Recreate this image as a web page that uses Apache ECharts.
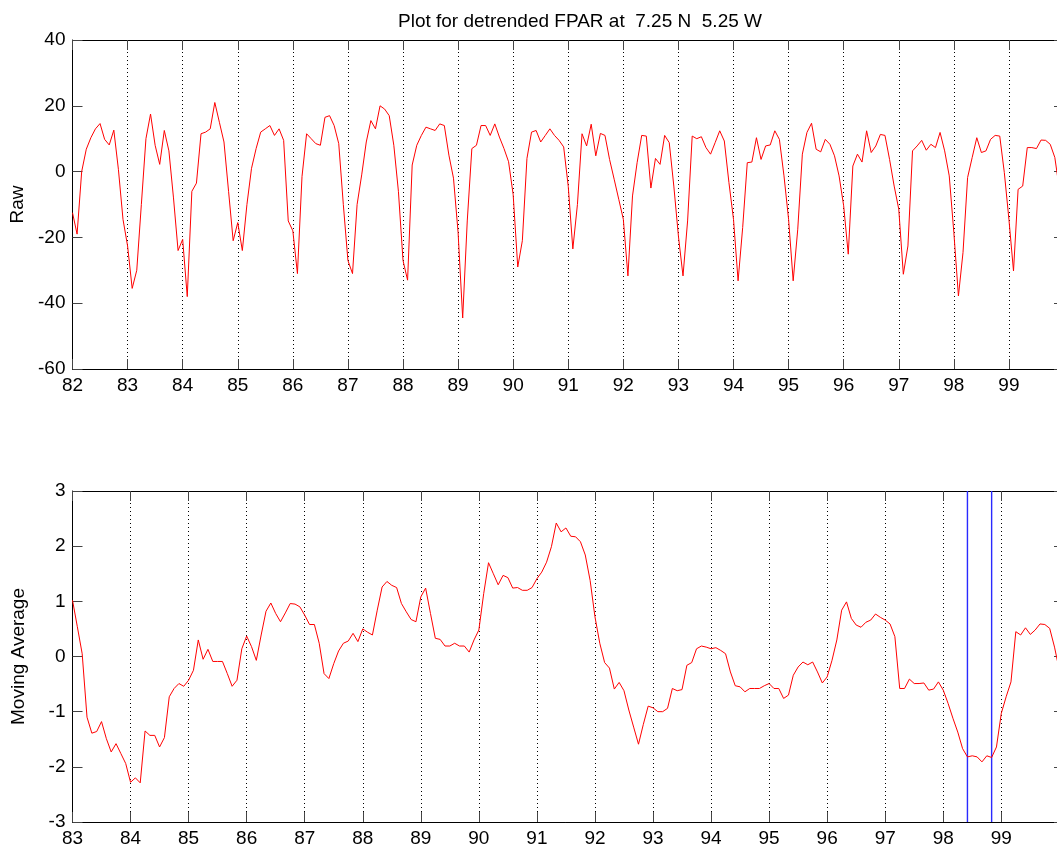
<!DOCTYPE html>
<html>
<head>
<meta charset="utf-8">
<title>Detrended FPAR</title>
<script src="https://cdn.jsdelivr.net/npm/echarts@6/dist/echarts.min.js"></script>
<style>
  html, body { margin: 0; padding: 0; background: #fff; }
  #chart { width: 1057px; height: 854px; }
</style>
</head>
<body>
<div id="chart"></div>
<script>
// Monthly detrended FPAR, Jan 1982 onward (two-digit years on the axis)
const rawStartYear = 82;
const rawValues = [
  -12.5, -19, 0, 6.8, 10.3, 13, 14.6, 9.8, 8.1, 12.6, 0.7, -14.5,
  -22.6, -35.5, -30, -10, 10, 17.5, 8, 2.2, 12.5, 6.3, -8, -24,
  -20.6, -38, -6, -3.5, 11.5, 12, 13, 21, 15, 9, -6, -21,
  -15.5, -24, -10, 1, 7, 12, 13, 14, 11, 13, 9.5, -15,
  -18, -31, -1.5, 11.5, 10, 8.5, 8, 16.5, 17, 14, 8.5, -10,
  -27, -31, -10, -1, 9, 15.5, 13, 20, 19, 17, 8, -6,
  -27, -33, 2, 8, 11, 13.5, 13, 12.5, 14.5, 14, 5, -2,
  -18.5, -44.5, -15, 7, 8, 14, 14, 11, 14.5, 10.5, 7, 3,
  -7, -29, -21, 4, 12, 12.5, 9, 11, 13, 11, 9.5, 7.5,
  -4.5, -23.5, -10, 11.5, 7.8, 14.4, 4.8, 11.6, 11, 3.7, -2.3, -8.4,
  -14.5, -31.7, -7.4, 2.7, 11, 10.8, -5, 4, 2.2, 11, 8.8, -4.4,
  -19.6, -31.7, -15, 10.8, 10, 10.6, 7.3, 5.3, 8.8, 12.4, 9.3, -3.3,
  -14.5, -33.2, -17, 2.7, 2.9, 10.3, 3.7, 7.8, 8.1, 12.4, 9.8, -1.3,
  -14.5, -33.2, -17.5, 5.3, 11.9, 14.7, 6.8, 6, 9.8, 8.3, 4.8, -1.3,
  -10.4, -25.1, 1.7, 5.3, 2.9, 12.4, 5.8, 7.8, 11.3, 11, 3.7, -4.4,
  -11.4, -31.2, -22.6, 6.3, 7.8, 9.5, 6.5, 8.3, 7.3, 11.9, 6.3, -1.3,
  -18.5, -37.8, -24.6, -1.8, 4.3, 10.3, 5.8, 6.3, 9.8, 11, 10.8, -0.3,
  -14.5, -30.2, -5.4, -4.4, 7.3, 7.3, 7, 9.6, 9.5, 8.3, 4.3, -5.4
];

// Moving average of the same series, Jan 1983 onward
const avgStartYear = 83;
const avgValues = [
  1.02, 0.54, 0.05, -1.1, -1.39, -1.36, -1.18, -1.49, -1.73, -1.58, -1.76, -1.94,
  -2.28, -2.2, -2.29, -1.35, -1.43, -1.43, -1.64, -1.47, -0.73, -0.58, -0.49, -0.54,
  -0.43, -0.25, 0.3, -0.05, 0.13, -0.09, -0.09, -0.09, -0.31, -0.54, -0.43, 0.14,
  0.37, 0.18, -0.07, 0.39, 0.82, 0.97, 0.78, 0.63, 0.79, 0.96, 0.95, 0.9,
  0.75, 0.58, 0.58, 0.24, -0.31, -0.4, -0.13, 0.1, 0.24, 0.28, 0.42, 0.27,
  0.5, 0.44, 0.39, 0.84, 1.26, 1.36, 1.29, 1.25, 0.96, 0.81, 0.67, 0.63,
  1.08, 1.24, 0.78, 0.33, 0.31, 0.19, 0.19, 0.24, 0.19, 0.19, 0.08, 0.3,
  0.48, 1.14, 1.7, 1.5, 1.3, 1.47, 1.43, 1.24, 1.25, 1.2, 1.2, 1.25,
  1.41, 1.53, 1.71, 1.99, 2.42, 2.26, 2.33, 2.18, 2.17, 2.08, 1.84, 1.38,
  0.72, 0.24, -0.11, -0.21, -0.59, -0.47, -0.62, -0.97, -1.28, -1.59, -1.23, -0.9,
  -0.93, -1.0, -1.0, -0.94, -0.58, -0.62, -0.6, -0.16, -0.11, 0.14, 0.19, 0.17,
  0.14, 0.16, 0.11, 0.05, -0.28, -0.53, -0.55, -0.64, -0.58, -0.58, -0.58, -0.53,
  -0.49, -0.58, -0.58, -0.76, -0.7, -0.34, -0.19, -0.1, -0.15, -0.1, -0.28, -0.48,
  -0.37, -0.07, 0.3, 0.84, 0.99, 0.69, 0.57, 0.53, 0.62, 0.66, 0.77, 0.71,
  0.66, 0.59, 0.36, -0.58, -0.58, -0.41, -0.49, -0.49, -0.48, -0.61, -0.59, -0.46,
  -0.61, -0.85, -1.12, -1.37, -1.67, -1.82, -1.8, -1.82, -1.91, -1.8, -1.83, -1.64,
  -1.03, -0.73, -0.46, 0.45, 0.39, 0.52, 0.4, 0.48, 0.59, 0.58, 0.51, 0.17, -0.25
];

// Window bounds marked on the moving average panel
const windowBounds = [98.4167, 98.8333];

const titleText = 'Plot for detrended FPAR at  7.25 N  5.25 W';
const rawYTicks = { min: -60, max: 40, step: 20 };
const avgYTicks = { min: -3, max: 3, step: 1 };
const rawXRange = [82, 100];
const avgXRange = [83, 100.08];

const monthsPerYear = 12;
const toPairs = (start, vals) => vals.map((v, i) => [start + i / monthsPerYear, v]);

const FONT = 'Liberation Sans, Helvetica, Arial, sans-serif';
const FONT_SIZE = 19;
const labelStyle = { color: '#000', fontFamily: FONT, fontSize: FONT_SIZE };
const tickStyle = { show: true, inside: true, length: 10, lineStyle: { color: '#444', width: 1 } };
const lineAxis = { show: true, onZero: false, lineStyle: { color: '#000', width: 1 } };
const yearLabel = v => (v >= 100 || Math.abs(v - Math.round(v)) > 1e-6) ? '' : String(Math.round(v));

// Both panels share the plot box; its right edge sits just past the page edge
const PLOT_LEFT = 72.5;
const PLOT_WIDTH = 991.5;

function xAxes(gridIndex, range) {
  return [
    {
      type: 'value', gridIndex, position: 'bottom', min: range[0], max: range[1], interval: 1,
      axisLine: lineAxis, axisTick: tickStyle,
      axisLabel: Object.assign({ margin: 7, formatter: yearLabel, showMaxLabel: false }, labelStyle),
      splitLine: { show: true, lineStyle: { color: '#000', width: 1, type: [1, 3] } }
    },
    {
      type: 'value', gridIndex, position: 'top', min: range[0], max: range[1], interval: 1,
      axisLine: lineAxis, axisTick: tickStyle, axisLabel: { show: false }, splitLine: { show: false }
    }
  ];
}

function yAxes(gridIndex, t, name) {
  return [
    {
      type: 'value', gridIndex, position: 'left', min: t.min, max: t.max, interval: t.step,
      name, nameLocation: 'middle', nameGap: 44, nameRotate: 90,
      nameTextStyle: { color: '#000', fontFamily: FONT, fontSize: FONT_SIZE },
      axisLine: lineAxis, axisTick: tickStyle,
      axisLabel: Object.assign({ margin: 7 }, labelStyle),
      splitLine: { show: false }
    },
    {
      type: 'value', gridIndex, position: 'right', min: t.min, max: t.max, interval: t.step,
      axisLine: lineAxis, axisTick: tickStyle, axisLabel: { show: false }, splitLine: { show: false }
    }
  ];
}

// Vertical blue lines spanning the lower panel at each window bound
const BOUND_BLUE = '#2a2aff';
const boundSeries = windowBounds.map(x => ({
  type: 'line', xAxisIndex: 2, yAxisIndex: 2, showSymbol: false, symbol: 'none',
  color: BOUND_BLUE,
  data: [[x, avgYTicks.min], [x, avgYTicks.max]],
  lineStyle: { color: BOUND_BLUE, width: 1.4 },
  z: 3
}));

const chart = echarts.init(document.getElementById('chart'), null, { renderer: 'canvas' });
chart.setOption({
  backgroundColor: '#fff',
  animation: false,
  title: {
    text: titleText, left: 393, top: 7,
    textStyle: { color: '#000', fontFamily: FONT, fontSize: FONT_SIZE, fontWeight: 'normal' }
  },
  grid: [
    { left: PLOT_LEFT, width: PLOT_WIDTH, top: 40, height: 329, outerBoundsMode: 'none', containLabel: false },
    { left: PLOT_LEFT, width: PLOT_WIDTH, top: 491, height: 331, outerBoundsMode: 'none', containLabel: false }
  ],
  xAxis: [].concat(xAxes(0, rawXRange), xAxes(1, avgXRange)),
  yAxis: [].concat(yAxes(0, rawYTicks, 'Raw'), yAxes(1, avgYTicks, 'Moving Average')),
  series: [
    {
      type: 'line', xAxisIndex: 0, yAxisIndex: 0, showSymbol: false, symbol: 'none',
      color: '#ff0000',
      data: toPairs(rawStartYear, rawValues),
      lineStyle: { color: '#ff0000', width: 1 }
    },
    {
      type: 'line', xAxisIndex: 2, yAxisIndex: 2, showSymbol: false, symbol: 'none',
      color: '#ff0000',
      data: toPairs(avgStartYear, avgValues),
      lineStyle: { color: '#ff0000', width: 1 },
      z: 4
    }
  ].concat(boundSeries)
});
</script>
</body>
</html>
